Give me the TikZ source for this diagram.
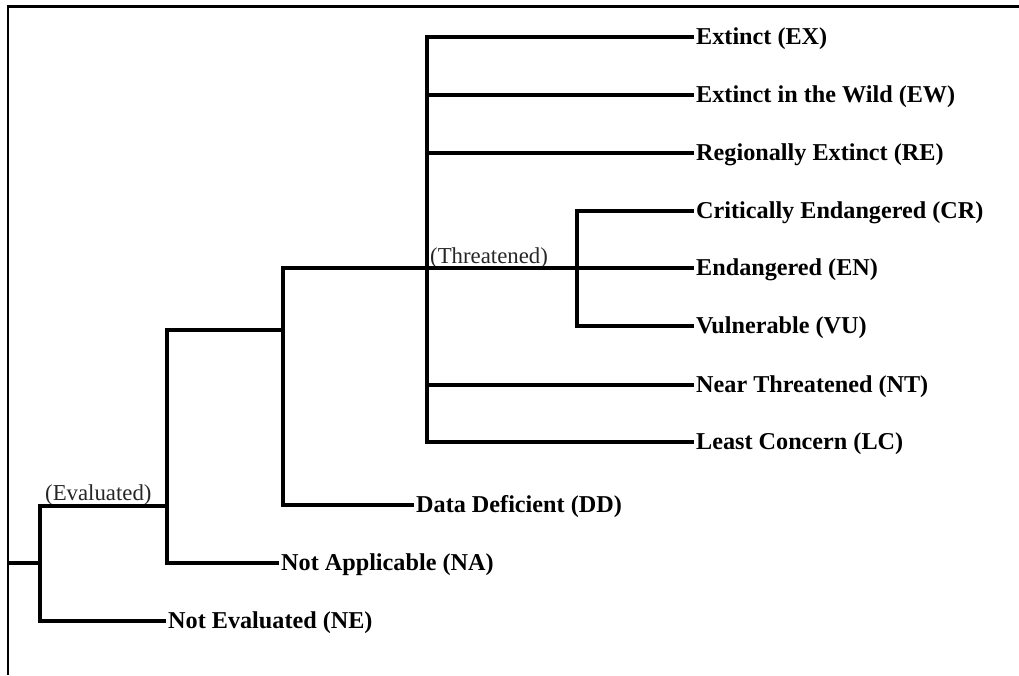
\documentclass[tikz,border=0pt]{standalone}
\usepackage{fontspec}
\setmainfont{Liberation Serif}
\usepackage{tikz}

\tikzset{
  branch/.style={line width=4.6pt},
  leaf/.style={anchor=west, inner xsep=2pt, inner ysep=0pt, text height=14pt, text depth=0pt,
    font=\fontsize{24.2}{28}\selectfont\bfseries},
  group/.style={anchor=base west, inner sep=0pt, text=black!85, font=\fontsize{22.8}{26}\selectfont}
}

\begin{document}
\begin{tikzpicture}[x=1pt,y=-1pt]
      \useasboundingbox (0,0) rectangle (1019,675);
      % frame
      \draw[line width=2.2pt] (7,6.5) -- (1019,6.5);
      \draw[line width=1.6pt] (8,5.5) -- (8,675);
      % junctions
      \coordinate (root) at (8,563);
      \coordinate (b0) at (40,563);
      \coordinate (b1) at (167,506);
      \coordinate (b2) at (283,330);
      \coordinate (b3) at (427,268);
      \coordinate (b4) at (577,268);
      % categories
      \node[leaf] (ex) at (694,37) {Extinct (EX)};
      \node[leaf] (ew) at (694,95) {Extinct in the Wild (EW)};
      \node[leaf] (re) at (694,153) {Regionally Extinct (RE)};
      \node[leaf] (cr) at (694,211) {Critically Endangered (CR)};
      \node[leaf] (en) at (694,268) {Endangered (EN)};
      \node[leaf] (vu) at (694,326) {Vulnerable (VU)};
      \node[leaf] (nt) at (694,385) {Near Threatened (NT)};
      \node[leaf] (lc) at (694,442) {Least Concern (LC)};
      \node[leaf] (dd) at (414,505) {Data Deficient (DD)};
      \node[leaf] (na) at (279,563) {Not Applicable (NA)};
      \node[leaf] (ne) at (166,621) {Not Evaluated (NE)};
      % group labels
      \node[group] (evaluated) at (45,500) {(Evaluated)};
      \node[group] (threatened) at (430,263) {(Threatened)};
      % tree
      \draw[branch] (root) -- (b0);
      \draw[branch] (b0) |- (b1);
      \draw[branch] (b0) |- (ne.west);
      \draw[branch] (b1) |- (b2);
      \draw[branch] (b1) |- (na.west);
      \draw[branch] (b2) |- (b3);
      \draw[branch] (b2) |- (dd.west);
      \draw[branch] (b3) |- (ex.west);
      \draw[branch] (b3) |- (ew.west);
      \draw[branch] (b3) |- (re.west);
      \draw[branch] (b3) -- (b4);
      \draw[branch] (b3) |- (nt.west);
      \draw[branch] (b3) |- (lc.west);
      \draw[branch] (b4) |- (cr.west);
      \draw[branch] (b4) -- (en.west);
      \draw[branch] (b4) |- (vu.west);
    \end{tikzpicture}
\end{document}
